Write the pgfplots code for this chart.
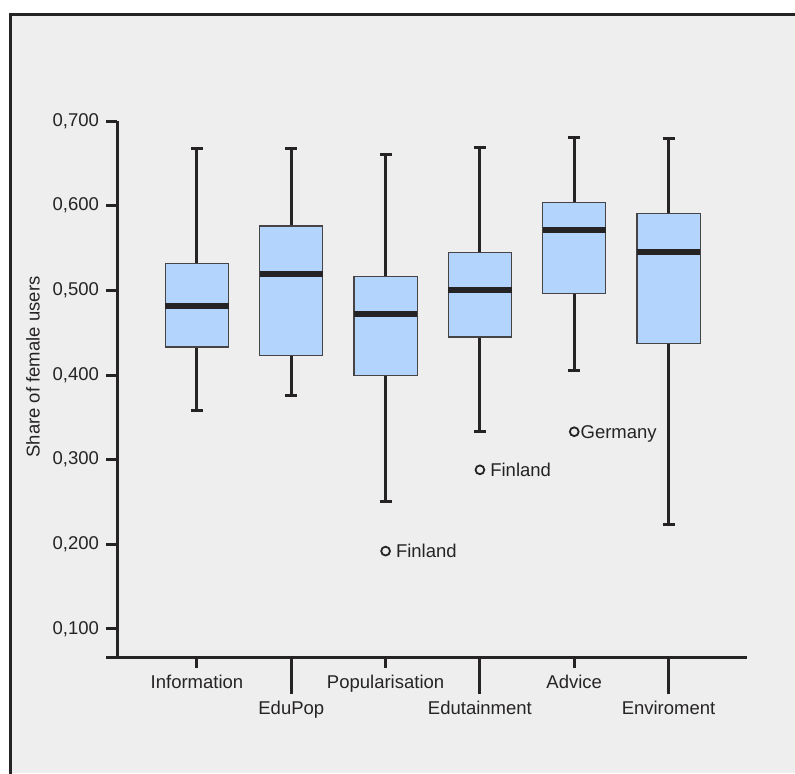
\documentclass[border=0pt]{standalone}
\usepackage{pgfplots}
\pgfplotsset{compat=1.18}
\usepgfplotslibrary{statistics}
\usepackage{fontspec}
\setmainfont{Liberation Sans}
\definecolor{bg}{HTML}{EEEEEE}
\definecolor{boxfill}{HTML}{B3D4FC}
\definecolor{ink}{HTML}{262324}
\newcommand{\chartfont}{\fontsize{9.25}{11}\selectfont}
\begin{document}
\begin{tikzpicture}
\path[use as bounding box] (0pt,0pt) rectangle (397.5pt,386.5pt);
\fill[white] (0pt,0pt) rectangle (397.5pt,386.5pt);
\fill[bg] (5pt,0pt) rectangle (397.5pt,379pt);
\draw[ink, line width=1.5pt] (5pt,-2pt) -- (5pt,379pt) -- (400pt,379pt);
\begin{axis}[
  at={(58.5pt,58pt)}, anchor=south west,
  width=315pt, height=268pt, scale only axis,
  xmin=-0.848, xmax=5.832, ymin=0.0669, ymax=0.7,
  clip=false,
  axis x line=bottom, axis y line=left,
  axis line style={ink, line width=1.5pt, -},
  tick align=outside, major tick length=5.5pt,
  tick style={ink, line width=1.5pt},
  minor tick num=0,
  ytick={0.1,0.2,0.3,0.4,0.5,0.6,0.7},
  yticklabel style={/pgf/number format/fixed, /pgf/number format/fixed zerofill,
    /pgf/number format/precision=3, /pgf/number format/use comma,
    /pgf/number format/assume math mode=true},
  tick label style={font=\chartfont, text=ink},
  xtick={0,2,4}, xticklabels={Information,Popularisation,Advice},
  extra x ticks={1,3,5}, extra x tick labels={EduPop,Edutainment,Enviroment},
  extra x tick style={major tick length=18.5pt},
  ylabel={Share of female users},
  ylabel style={font=\chartfont, text=ink, at={(axis description cs:-0.1333,0.541)}, anchor=center},
  boxplot/draw direction=y,
  boxplot/box extend=0.67,
  boxplot/whisker extend=0.127,
  boxplot/every box/.style={draw=ink!85, line width=0.6pt, fill=boxfill},
  boxplot/every whisker/.style={draw=ink, line width=1.5pt},
  boxplot/every median/.style={draw=ink, line width=3pt},
]
\addplot[draw=ink, boxplot prepared={draw position=0, lower whisker=0.358, lower quartile=0.433, median=0.481, upper quartile=0.532, upper whisker=0.667}] coordinates {};
\addplot[draw=ink, boxplot prepared={draw position=1, lower whisker=0.376, lower quartile=0.423, median=0.519, upper quartile=0.576, upper whisker=0.667}] coordinates {};
\addplot[draw=ink, boxplot prepared={draw position=2, lower whisker=0.251, lower quartile=0.399, median=0.472, upper quartile=0.516, upper whisker=0.660}] coordinates {};
\addplot[draw=ink, boxplot prepared={draw position=3, lower whisker=0.333, lower quartile=0.445, median=0.500, upper quartile=0.545, upper whisker=0.669}] coordinates {};
\addplot[draw=ink, boxplot prepared={draw position=4, lower whisker=0.405, lower quartile=0.496, median=0.571, upper quartile=0.604, upper whisker=0.681}] coordinates {};
\addplot[draw=ink, boxplot prepared={draw position=5, lower whisker=0.223, lower quartile=0.437, median=0.545, upper quartile=0.591, upper whisker=0.679}] coordinates {};
\addplot[only marks, mark=*, mark size=2.2pt, mark options={draw=ink, fill=bg, line width=0.9pt}] coordinates {(2,0.192) (3,0.288) (4,0.333)};
\node[anchor=base west, inner sep=0pt, xshift=5pt, yshift=-3.3pt, font=\chartfont, text=ink] at (axis cs:2,0.192) {Finland};
\node[anchor=base west, inner sep=0pt, xshift=5pt, yshift=-3.3pt, font=\chartfont, text=ink] at (axis cs:3,0.288) {Finland};
\node[anchor=base west, inner sep=0pt, xshift=3pt, yshift=-3.3pt, font=\chartfont, text=ink] at (axis cs:4,0.333) {Germany};
\draw[ink, line width=1.5pt] ([xshift=-5.5pt]rel axis cs:0,0) -- (rel axis cs:0,0);
\end{axis}
\end{tikzpicture}
\end{document}
